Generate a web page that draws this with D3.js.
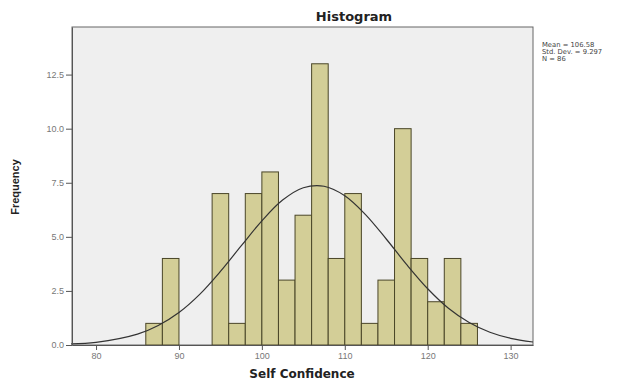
<!DOCTYPE html>
<html>
<head>
<meta charset="utf-8">
<script src="https://cdn.jsdelivr.net/npm/d3@7"></script>
<style>
    body { margin: 0; background: #fff; }
    svg { display: block; font-family: "Liberation Sans", Arial, sans-serif; }
    .axis text { fill: #777; font-size: 9px; }
    .axis path, .axis line { stroke: #555; }
</style>
</head>
<body>
<script>
// Histogram bins (lower edge, width 2) and counts
const binStarts = [86, 88, 90, 92, 94, 96, 98, 100, 102, 104, 106, 108, 110, 112, 114, 116, 118, 120, 122, 124];
const counts = [1, 4, 0, 0, 7, 1, 7, 8, 3, 6, 13, 4, 7, 1, 3, 10, 4, 2, 4, 1];
const binWidth = 2;

// Normal curve
const curveX = [77, 80, 85, 87.5, 90, 92.5, 95, 97.5, 100, 102.5, 105, 107.5, 110, 112.5, 115, 117.5, 120, 122.5, 125, 127.5, 130, 132.7];
const curveY = [0.05, 0.12, 0.5, 0.9, 1.5, 2.34, 3.4, 4.58, 5.74, 6.7, 7.27, 7.34, 6.9, 6.03, 4.9, 3.7, 2.6, 1.7, 1.04, 0.59, 0.31, 0.14];

const xTicks = [80, 90, 100, 110, 120, 130];
const yTicks = [0, 2.5, 5, 7.5, 10, 12.5];
const statLines = ["Mean = 106.58", "Std. Dev. = 9.297", "N = 86"];

const width = 635;
const height = 383;
const margin = { top: 27, right: 102, bottom: 38, left: 72 };

const svg = d3.select("body")
    .append("svg")
    .attr("width", width)
    .attr("height", height);

const xScale = d3.scaleLinear()
    .domain([77.1, 132.7])
    .range([margin.left, width - margin.right]);

const yScale = d3.scaleLinear()
    .domain([0, 14.7])
    .range([height - margin.bottom, margin.top]);

// Plot background
svg.append("rect")
    .attr("x", margin.left)
    .attr("y", margin.top)
    .attr("width", xScale.range()[1] - margin.left)
    .attr("height", yScale(0) - margin.top)
    .attr("fill", "#efefef")
    .attr("stroke", "#666")
    .attr("stroke-width", 1);

// Bars
svg.append("g")
    .selectAll("rect")
    .data(binStarts.map((b, i) => ({ x0: b, n: counts[i] })).filter(d => d.n > 0))
    .join("rect")
    .attr("x", d => xScale(d.x0))
    .attr("y", d => yScale(d.n))
    .attr("width", d => xScale(d.x0 + binWidth) - xScale(d.x0))
    .attr("height", d => yScale(0) - yScale(d.n))
    .attr("fill", "#d3ce97")
    .attr("stroke", "#4a4628")
    .attr("stroke-width", 1);

// Normal curve
svg.append("path")
    .datum(curveX.map((x, i) => [x, curveY[i]]))
    .attr("fill", "none")
    .attr("stroke", "#333")
    .attr("stroke-width", 1.2)
    .attr("d", d3.line()
        .x(d => xScale(d[0]))
        .y(d => yScale(d[1]))
        .curve(d3.curveCatmullRom));

// Axes
svg.append("g")
    .attr("class", "axis")
    .attr("transform", `translate(0, ${yScale(0)})`)
    .call(d3.axisBottom(xScale).tickValues(xTicks).tickSize(5).tickSizeOuter(0).tickPadding(3));

svg.append("g")
    .attr("class", "axis")
    .attr("transform", `translate(${margin.left}, 0)`)
    .call(d3.axisLeft(yScale).tickValues(yTicks).tickFormat(d3.format(".1f")).tickSize(6).tickSizeOuter(0).tickPadding(2));

// Title
svg.append("text")
    .attr("x", 354)
    .attr("y", 21)
    .attr("text-anchor", "middle")
    .attr("font-family", "'DejaVu Sans', sans-serif")
    .attr("font-size", "13px")
    .attr("font-weight", "bold")
    .attr("fill", "#222")
    .text("Histogram");

// Axis labels
svg.append("text")
    .attr("x", 302)
    .attr("y", 378)
    .attr("text-anchor", "middle")
    .attr("font-family", "'DejaVu Sans', sans-serif")
    .attr("font-size", "12px")
    .attr("font-weight", "bold")
    .attr("fill", "#222")
    .text("Self Confidence");

svg.append("text")
    .attr("transform", "rotate(-90)")
    .attr("x", -187)
    .attr("y", 19)
    .attr("text-anchor", "middle")
    .attr("font-size", "11px")
    .attr("font-weight", "bold")
    .attr("fill", "#222")
    .text("Frequency");

// Stats box
svg.append("g")
    .selectAll("text")
    .data(statLines)
    .join("text")
    .attr("x", 542)
    .attr("y", (d, i) => 47 + i * 7)
    .attr("font-family", "'DejaVu Sans', sans-serif")
    .attr("font-size", "6.8px")
    .attr("fill", "#444")
    .text(d => d);
</script>
</body>
</html>
